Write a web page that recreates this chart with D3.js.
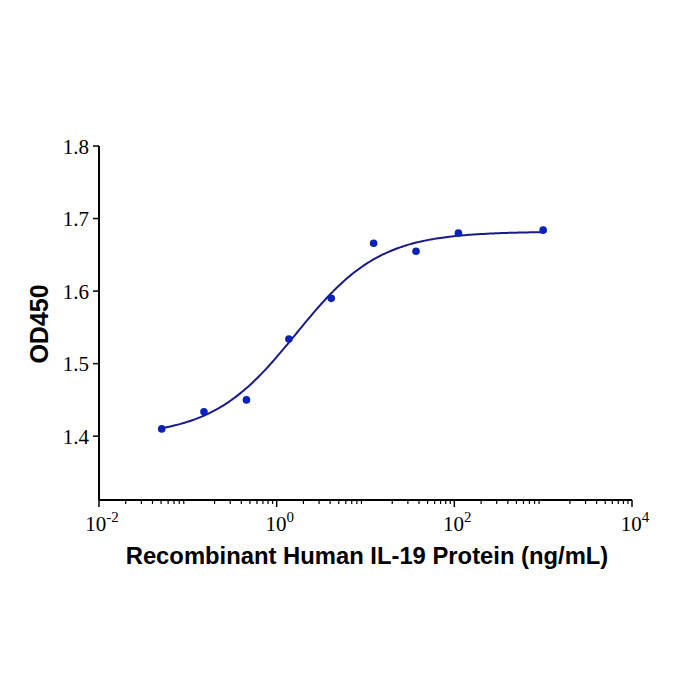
<!DOCTYPE html>
<html>
<head>
<meta charset="utf-8">
<script src="https://cdn.jsdelivr.net/npm/d3@7"></script>
<style>
  body { margin: 0; background: #fff; }
</style>
</head>
<body>
<div id="chart"></div>
<script>
/* ======================== DATA ========================= */
const concentrations = [0.0508, 0.152, 0.457, 1.372, 4.115, 12.35, 37.04, 111.1, 1000];
const od450 = [1.410, 1.4335, 1.450, 1.534, 1.590, 1.666, 1.655, 1.680, 1.684];

// 4PL fit of the curve: bottom, top, EC50, hill
const fitBottom = 1.40;
const fitTop = 1.682;
const fitEC50 = 1.65;
const fitHill = 0.92;

const yTicks = [1.4, 1.5, 1.6, 1.7, 1.8];
const xMajorExp = [-2, 0, 2, 4];

/* ======================= LAYOUT ======================== */
const width = 700, height = 700;
const margin = {left: 99, top: 146, right: 68, bottom: 200};

const svg = d3.select("#chart").append("svg")
              .attr("width", width)
              .attr("height", height);

const xScale = d3.scaleLog()
                 .domain([1e-2, 1e4])
                 .range([margin.left, width - margin.right]);
const yScale = d3.scaleLinear()
                 .domain([1.312, 1.8])
                 .range([500, margin.top]);

/* ======================== AXES ========================= */
const yAxisG = svg.append("g")
                  .attr("transform", `translate(${margin.left},0)`);
yAxisG.append("line")
      .attr("y1", yScale(1.312)).attr("y2", yScale(1.8))
      .attr("stroke", "#000").attr("stroke-width", 2);
yAxisG.selectAll(".ytick")
      .data(yTicks)
      .enter().append("line")
      .attr("x1", -6).attr("x2", 0)
      .attr("y1", d => yScale(d)).attr("y2", d => yScale(d))
      .attr("stroke", "#000").attr("stroke-width", 1.5);
yAxisG.selectAll(".ylab")
      .data(yTicks)
      .enter().append("text")
      .attr("x", -10)
      .attr("y", d => yScale(d) + 7.5)
      .attr("text-anchor", "end")
      .style("font-family", "'Liberation Serif', 'Times New Roman', serif")
      .style("font-size", "21px")
      .text(d => d.toFixed(1));

const xAxisG = svg.append("g")
                  .attr("transform", `translate(0,${yScale(1.312)})`);
xAxisG.append("line")
      .attr("x1", xScale(1e-2)).attr("x2", xScale(1e4))
      .attr("stroke", "#000").attr("stroke-width", 2);

let minorTicks = [];
for (let e = -2; e < 4; e++) {
    for (let m = 2; m <= 9; m++) minorTicks.push(m * Math.pow(10, e));
}
xAxisG.selectAll(".xminor")
      .data(minorTicks)
      .enter().append("line")
      .attr("x1", d => xScale(d)).attr("x2", d => xScale(d))
      .attr("y1", 0).attr("y2", 4)
      .attr("stroke", "#000").attr("stroke-width", 1.2);
xAxisG.selectAll(".xmajor")
      .data(xMajorExp)
      .enter().append("line")
      .attr("x1", d => xScale(Math.pow(10, d))).attr("x2", d => xScale(Math.pow(10, d)))
      .attr("y1", 0).attr("y2", 7)
      .attr("stroke", "#000").attr("stroke-width", 1.5);

const xLab = xAxisG.selectAll(".xlab")
                   .data(xMajorExp)
                   .enter().append("text")
                   .attr("x", d => xScale(Math.pow(10, d)) + 3)
                   .attr("y", 31)
                   .attr("text-anchor", "middle")
                   .style("font-family", "'Liberation Serif', 'Times New Roman', serif")
                   .style("font-size", "21px");
xLab.append("tspan").text("10");
xLab.append("tspan")
    .attr("dy", -9)
    .style("font-size", "15px")
    .text(d => d < 0 ? "-" + Math.abs(d) : d);

/* ===================== AXIS TITLES ===================== */
svg.append("text")
   .attr("x", 367)
   .attr("y", 564)
   .attr("text-anchor", "middle")
   .style("font-family", "'Liberation Sans', Arial, sans-serif")
   .style("font-weight", "bold")
   .style("font-size", "23.8px")
   .text("Recombinant Human IL-19 Protein (ng/mL)");

svg.append("text")
   .attr("transform", `translate(48,324) rotate(-90)`)
   .attr("text-anchor", "middle")
   .style("font-family", "'Liberation Sans', Arial, sans-serif")
   .style("font-weight", "bold")
   .style("font-size", "25px")
   .text("OD450");

/* ====================== FIT CURVE ====================== */
function fit4pl(x) {
    return fitBottom + (fitTop - fitBottom) / (1 + Math.pow(fitEC50 / x, fitHill));
}
const curveXs = d3.range(0, 201).map(i => {
    const lo = Math.log10(concentrations[0]);
    const hi = Math.log10(concentrations[concentrations.length - 1]);
    return Math.pow(10, lo + (hi - lo) * i / 200);
});
svg.append("path")
   .datum(curveXs)
   .attr("fill", "none")
   .attr("stroke", "#1a1a8a")
   .attr("stroke-width", 2)
   .attr("d", d3.line().x(d => xScale(d)).y(d => yScale(fit4pl(d))));

/* ======================== POINTS ======================= */
svg.selectAll(".pt")
   .data(concentrations)
   .enter().append("circle")
   .attr("cx", d => xScale(d))
   .attr("cy", (d, i) => yScale(od450[i]))
   .attr("r", 3.8)
   .attr("fill", "#0b22b8");
</script>
</body>
</html>
